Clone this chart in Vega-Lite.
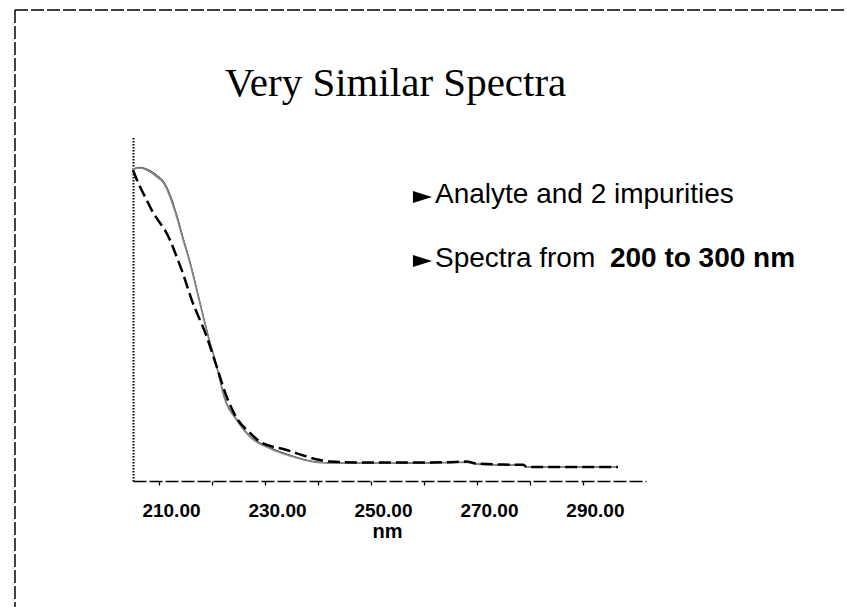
{
  "$schema": "https://vega.github.io/schema/vega-lite/v6.json",
  "autosize": {"type": "none"},
  "padding": {"left": 133, "top": 137, "right": 201, "bottom": 126},
  "width": 513,
  "height": 344,
  "background": "white",
  "config": {
    "view": {"stroke": null},
    "font": "Liberation Sans",
    "axis": {"grid": false}
  },
  "title": {
    "text": "Very Similar Spectra",
    "font": "Liberation Serif",
    "fontSize": 41,
    "fontWeight": "normal",
    "color": "black",
    "anchor": "middle",
    "frame": "group",
    "baseline": "alphabetic",
    "offset": 0,
    "dy": 128,
    "dx": 6
  },
  "datasets": {
    "spectra": [
      {"series": "Impurity 1", "nm": 205.09, "abs": 0.966},
      {"series": "Impurity 1", "nm": 206.42, "abs": 0.971},
      {"series": "Impurity 1", "nm": 207.68, "abs": 0.966},
      {"series": "Impurity 1", "nm": 209.57, "abs": 0.947},
      {"series": "Impurity 1", "nm": 211.13, "abs": 0.921},
      {"series": "Impurity 1", "nm": 212.08, "abs": 0.887},
      {"series": "Impurity 1", "nm": 213.34, "abs": 0.825},
      {"series": "Impurity 1", "nm": 214.58, "abs": 0.752},
      {"series": "Impurity 1", "nm": 215.85, "abs": 0.68},
      {"series": "Impurity 1", "nm": 217.42, "abs": 0.575},
      {"series": "Impurity 1", "nm": 219.3, "abs": 0.45},
      {"series": "Impurity 1", "nm": 220.8, "abs": 0.362},
      {"series": "Impurity 1", "nm": 222.4, "abs": 0.258},
      {"series": "Impurity 1", "nm": 224.66, "abs": 0.192},
      {"series": "Impurity 1", "nm": 227.17, "abs": 0.14},
      {"series": "Impurity 1", "nm": 230.94, "abs": 0.104},
      {"series": "Impurity 1", "nm": 235.34, "abs": 0.077},
      {"series": "Impurity 1", "nm": 239.75, "abs": 0.059},
      {"series": "Impurity 1", "nm": 243.53, "abs": 0.056},
      {"series": "Impurity 1", "nm": 250, "abs": 0.055},
      {"series": "Impurity 1", "nm": 258, "abs": 0.055},
      {"series": "Impurity 1", "nm": 264.3, "abs": 0.057},
      {"series": "Impurity 1", "nm": 268, "abs": 0.058},
      {"series": "Impurity 1", "nm": 270, "abs": 0.053},
      {"series": "Impurity 1", "nm": 275, "abs": 0.05},
      {"series": "Impurity 1", "nm": 278.7, "abs": 0.05},
      {"series": "Impurity 1", "nm": 279.4, "abs": 0.043},
      {"series": "Impurity 1", "nm": 285, "abs": 0.043},
      {"series": "Impurity 1", "nm": 296.6, "abs": 0.043},
      {"series": "Analyte", "nm": 205.09, "abs": 0.966},
      {"series": "Analyte", "nm": 206.42, "abs": 0.969},
      {"series": "Analyte", "nm": 207.68, "abs": 0.963},
      {"series": "Analyte", "nm": 209.57, "abs": 0.942},
      {"series": "Analyte", "nm": 211.13, "abs": 0.916},
      {"series": "Analyte", "nm": 212.08, "abs": 0.88},
      {"series": "Analyte", "nm": 213.34, "abs": 0.818},
      {"series": "Analyte", "nm": 214.58, "abs": 0.746},
      {"series": "Analyte", "nm": 215.85, "abs": 0.675},
      {"series": "Analyte", "nm": 217.42, "abs": 0.571},
      {"series": "Analyte", "nm": 219.3, "abs": 0.447},
      {"series": "Analyte", "nm": 220.8, "abs": 0.36},
      {"series": "Analyte", "nm": 222.4, "abs": 0.255},
      {"series": "Analyte", "nm": 224.66, "abs": 0.189},
      {"series": "Analyte", "nm": 227.17, "abs": 0.137},
      {"series": "Analyte", "nm": 230.94, "abs": 0.101},
      {"series": "Analyte", "nm": 235.34, "abs": 0.075},
      {"series": "Analyte", "nm": 239.75, "abs": 0.058},
      {"series": "Analyte", "nm": 243.53, "abs": 0.055},
      {"series": "Analyte", "nm": 250, "abs": 0.055},
      {"series": "Analyte", "nm": 258, "abs": 0.056},
      {"series": "Analyte", "nm": 264.3, "abs": 0.057},
      {"series": "Analyte", "nm": 268, "abs": 0.058},
      {"series": "Analyte", "nm": 270, "abs": 0.052},
      {"series": "Analyte", "nm": 275, "abs": 0.05},
      {"series": "Analyte", "nm": 278.7, "abs": 0.05},
      {"series": "Analyte", "nm": 279.4, "abs": 0.043},
      {"series": "Analyte", "nm": 285, "abs": 0.043},
      {"series": "Analyte", "nm": 296.6, "abs": 0.043},
      {"series": "Impurity 2", "nm": 205.09, "abs": 0.963},
      {"series": "Impurity 2", "nm": 206.42, "abs": 0.911},
      {"series": "Impurity 2", "nm": 207.68, "abs": 0.87},
      {"series": "Impurity 2", "nm": 208.92, "abs": 0.83},
      {"series": "Impurity 2", "nm": 210.19, "abs": 0.799},
      {"series": "Impurity 2", "nm": 211.13, "abs": 0.777},
      {"series": "Impurity 2", "nm": 212.08, "abs": 0.746},
      {"series": "Impurity 2", "nm": 213.34, "abs": 0.694},
      {"series": "Impurity 2", "nm": 214.58, "abs": 0.64},
      {"series": "Impurity 2", "nm": 216.04, "abs": 0.567},
      {"series": "Impurity 2", "nm": 219.0, "abs": 0.447},
      {"series": "Impurity 2", "nm": 220.89, "abs": 0.354},
      {"series": "Impurity 2", "nm": 222.77, "abs": 0.261},
      {"series": "Impurity 2", "nm": 224.66, "abs": 0.195},
      {"series": "Impurity 2", "nm": 227.17, "abs": 0.149},
      {"series": "Impurity 2", "nm": 229.06, "abs": 0.122},
      {"series": "Impurity 2", "nm": 234.09, "abs": 0.096},
      {"series": "Impurity 2", "nm": 240.38, "abs": 0.065},
      {"series": "Impurity 2", "nm": 242.26, "abs": 0.06},
      {"series": "Impurity 2", "nm": 250, "abs": 0.057},
      {"series": "Impurity 2", "nm": 258, "abs": 0.057},
      {"series": "Impurity 2", "nm": 264.3, "abs": 0.058},
      {"series": "Impurity 2", "nm": 268, "abs": 0.06},
      {"series": "Impurity 2", "nm": 270, "abs": 0.054},
      {"series": "Impurity 2", "nm": 275, "abs": 0.051},
      {"series": "Impurity 2", "nm": 278.7, "abs": 0.05},
      {"series": "Impurity 2", "nm": 279.4, "abs": 0.044},
      {"series": "Impurity 2", "nm": 285, "abs": 0.043},
      {"series": "Impurity 2", "nm": 296.6, "abs": 0.043}
    ]
  },
  "layer": [
    {
      "data": {"name": "spectra"},
      "mark": {"type": "line", "interpolate": "monotone"},
      "encoding": {
        "x": {
          "field": "nm",
          "type": "quantitative",
          "scale": {"domain": [205.1, 301.9], "nice": false, "zero": false},
          "axis": {
            "values": [210, 220, 230, 240, 250, 260, 270, 280, 290],
            "labelExpr": "datum.value % 20 == 10 ? format(datum.value, '.2f') : ''",
            "labelOverlap": false,
            "labelFlush": false,
            "domainColor": "black",
            "domainWidth": 1.3,
            "domainDash": [13, 3],
            "tickColor": "black",
            "tickSize": 4,
            "tickWidth": 1.3,
            "labelFont": "Liberation Sans",
            "labelFontSize": 19,
            "labelFontWeight": "bold",
            "labelColor": "black",
            "labelPadding": 16,
            "labelOffset": 12,
            "title": "nm",
            "titleFont": "Liberation Sans",
            "titleFontSize": 20,
            "titleFontWeight": "bold",
            "titleColor": "black",
            "titleBaseline": "alphabetic",
            "titleY": 56,
            "titleX": 254
          }
        },
        "y": {
          "field": "abs",
          "type": "quantitative",
          "scale": {"domain": [0, 1.065], "nice": false, "zero": false},
          "axis": {
            "title": null,
            "labels": false,
            "ticks": false,
            "domainColor": "black",
            "domainWidth": 2,
            "domainDash": [1.5, 1.5]
          }
        },
        "color": {
          "field": "series",
          "type": "nominal",
          "scale": {"domain": ["Impurity 1", "Analyte", "Impurity 2"], "range": ["#000000", "#878787", "#000000"]},
          "legend": null
        },
        "strokeDash": {
          "field": "series",
          "type": "nominal",
          "scale": {"domain": ["Impurity 1", "Analyte", "Impurity 2"], "range": [[1, 0], [1, 0], [12, 5]]},
          "legend": null
        },
        "strokeWidth": {
          "field": "series",
          "type": "nominal",
          "scale": {"domain": ["Impurity 1", "Analyte", "Impurity 2"], "range": [1, 2.5, 1.8]},
          "legend": null
        }
      }
    },
    {
      "data": {"values": [{}]},
      "mark": {"type": "text", "align": "left", "baseline": "alphabetic", "font": "Liberation Sans", "fontSize": 28, "color": "black"},
      "encoding": {
        "x": {"datum": 262.08, "type": "quantitative"},
        "y": {"datum": 0.861, "type": "quantitative"},
        "text": {"value": "Analyte and 2 impurities"}
      }
    },
    {
      "data": {"values": [{}]},
      "mark": {"type": "text", "align": "left", "baseline": "alphabetic", "font": "Liberation Sans", "fontSize": 28, "color": "black"},
      "encoding": {
        "x": {"datum": 262.08, "type": "quantitative"},
        "y": {"datum": 0.663, "type": "quantitative"},
        "text": {"value": "Spectra from"}
      }
    },
    {
      "data": {"values": [{}]},
      "mark": {"type": "text", "align": "left", "baseline": "alphabetic", "font": "Liberation Sans", "fontSize": 28, "fontWeight": "bold", "color": "black"},
      "encoding": {
        "x": {"datum": 295.09, "type": "quantitative"},
        "y": {"datum": 0.663, "type": "quantitative"},
        "text": {"value": "200 to 300 nm"}
      }
    },
    {
      "data": {"values": [{}]},
      "mark": {"type": "point", "shape": "M -1 -0.63 L 1 0 L -1 0.63 Z", "filled": true, "color": "black", "size": 361, "strokeWidth": 0, "opacity": 1},
      "encoding": {
        "x": {"datum": 259.72, "type": "quantitative"},
        "y": {"datum": 0.879, "type": "quantitative"}
      }
    },
    {
      "data": {"values": [{}]},
      "mark": {"type": "point", "shape": "M -1 -0.63 L 1 0 L -1 0.63 Z", "filled": true, "color": "black", "size": 361, "strokeWidth": 0, "opacity": 1},
      "encoding": {
        "x": {"datum": 259.72, "type": "quantitative"},
        "y": {"datum": 0.681, "type": "quantitative"}
      }
    },
    {
      "data": {"values": [{}]},
      "mark": {"type": "rule", "color": "black", "strokeWidth": 1.5, "strokeDash": [13, 3]},
      "encoding": {
        "x": {"datum": 182.83, "type": "quantitative"},
        "x2": {"datum": 345},
        "y": {"datum": 1.458, "type": "quantitative"}
      }
    },
    {
      "data": {"values": [{}]},
      "mark": {"type": "rule", "color": "black", "strokeWidth": 1.5, "strokeDash": [13, 3]},
      "encoding": {
        "x": {"datum": 182.83, "type": "quantitative"},
        "y": {"datum": 1.458, "type": "quantitative"},
        "y2": {"datum": -0.6}
      }
    }
  ]
}
